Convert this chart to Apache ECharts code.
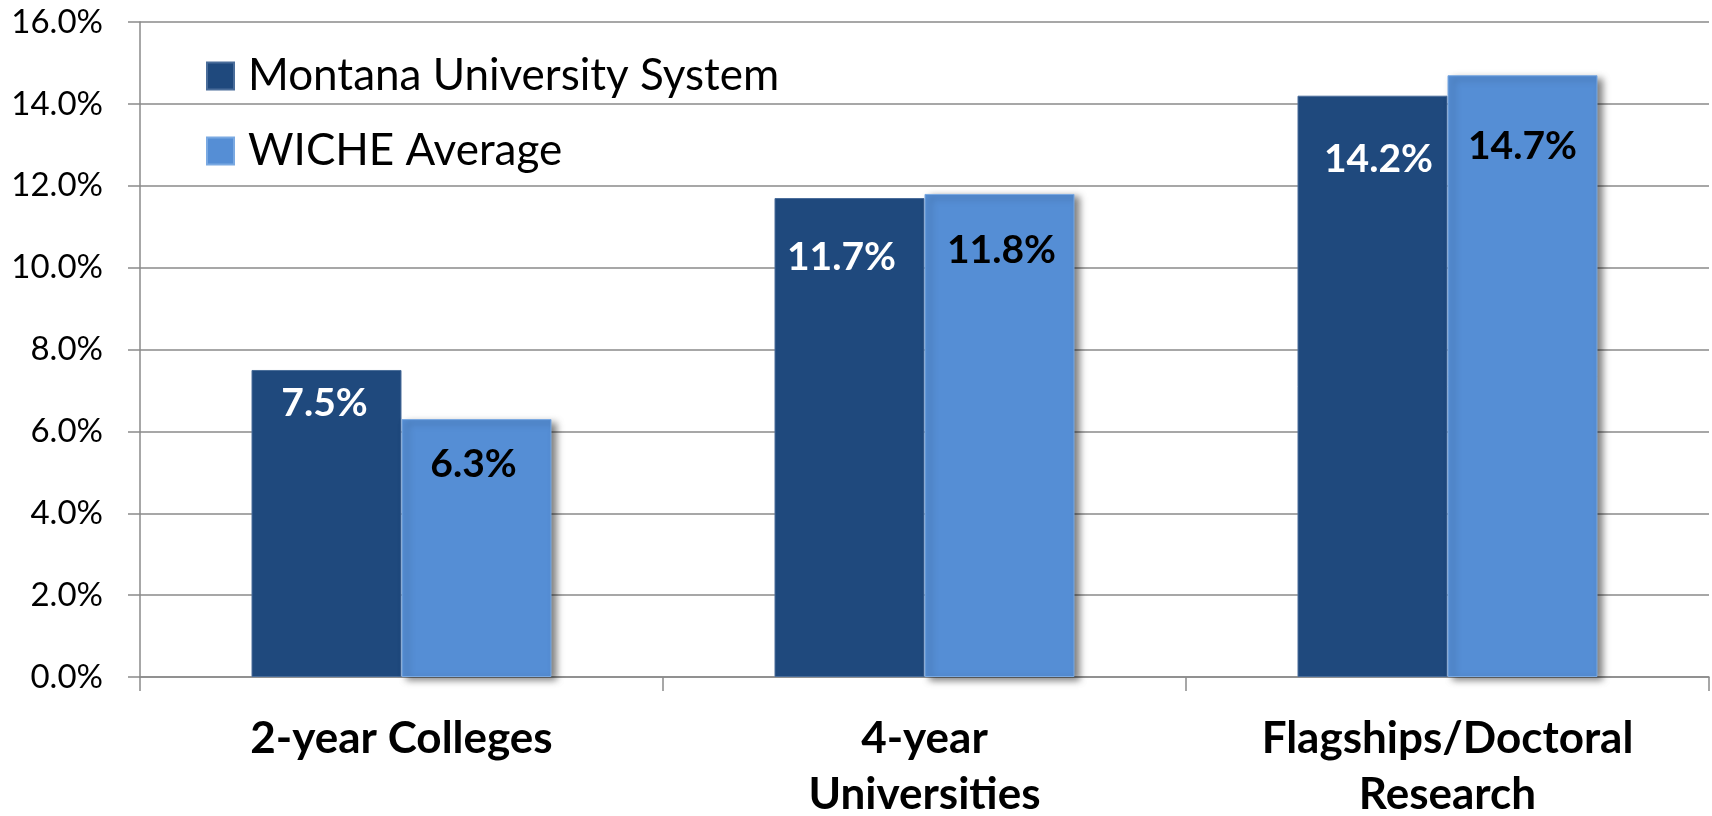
<!DOCTYPE html>
<html>
<head>
<meta charset="utf-8">
<script src="https://cdn.jsdelivr.net/npm/echarts@6/dist/echarts.min.js"></script>
<style>
  html, body { margin: 0; padding: 0; background: #ffffff; }
  #chart { width: 1712px; height: 816px; }
</style>
</head>
<body>
<div id="chart"></div>
<script>
// Categories and values (percent)
const categories = ['2-year Colleges', '4-year\nUniversities', 'Flagships/Doctoral\nResearch'];
const seriesNames = ['Montana University System', 'WICHE Average'];
const montanaValues = [7.5, 11.7, 14.2];
const wicheValues = [6.3, 11.8, 14.7];
const yAxisMin = 0;
const yAxisMax = 16;
const yAxisStep = 2;

// Hand-placed value label nudges [dx, dy] inside each bar's top
const montanaLabelNudge = [[-2, 14], [-8, 40], [6, 45]];
const wicheLabelNudge = [[-3, 26], [2, 37], [0, 52]];

const FONT = 'Lato';
const GRID_GRAY = '#8a8a8a';

function withLabels(values, nudges, color) {
  return values.map((v, i) => ({
    value: v,
    label: { offset: nudges[i], color: color }
  }));
}

const valueLabel = {
  show: true,
  position: 'insideTop',
  distance: 0,
  fontFamily: FONT,
  fontWeight: 'bold',
  fontSize: 39,
  lineHeight: 38,
  formatter: p => p.value.toFixed(1) + '%'
};

const chart = echarts.init(document.getElementById('chart'), null, { renderer: 'canvas' });
chart.setOption({
  animation: false,
  backgroundColor: '#ffffff',
  grid: { left: 140, right: 3, top: 22, bottom: 139, containLabel: false, outerBoundsMode: 'none' },
  legend: {
    orient: 'vertical',
    left: 206,
    top: 54,
    itemWidth: 27,
    itemHeight: 27,
    itemGap: 31,
    padding: 0,
    icon: 'rect',
    textStyle: { fontFamily: FONT, fontSize: 44, color: '#000', padding: [0, 0, 0, 9] },
    data: seriesNames
  },
  xAxis: {
    type: 'category',
    data: categories,
    axisLine: { show: true, lineStyle: { color: GRID_GRAY, width: 1.5 } },
    axisTick: { show: true, length: 14, lineStyle: { color: GRID_GRAY, width: 1.5 } },
    axisLabel: {
      margin: 34,
      fontFamily: FONT,
      fontWeight: 'bold',
      fontSize: 44,
      lineHeight: 56,
      color: '#000',
      interval: 0
    }
  },
  yAxis: {
    type: 'value',
    min: yAxisMin,
    max: yAxisMax,
    interval: yAxisStep,
    axisLine: { show: true, lineStyle: { color: GRID_GRAY, width: 1.5 } },
    axisTick: { show: true, length: 12, lineStyle: { color: GRID_GRAY, width: 1.5 } },
    splitLine: { show: true, lineStyle: { color: GRID_GRAY, width: 1.5 } },
    axisLabel: {
      margin: 37,
      fontFamily: FONT,
      fontSize: 33,
      color: '#000',
      formatter: v => v.toFixed(1) + '%'
    }
  },
  series: [
    {
      name: seriesNames[0],
      type: 'bar',
      barWidth: 150,
      barGap: '0%',
      data: withLabels(montanaValues, montanaLabelNudge, '#ffffff'),
      itemStyle: { color: '#1f497d', borderColor: '#4a6d9a', borderWidth: 1 },
      label: valueLabel
    },
    {
      name: seriesNames[1],
      type: 'bar',
      barWidth: 150,
      barGap: '0%',
      data: withLabels(wicheValues, wicheLabelNudge, '#000000'),
      itemStyle: {
        color: '#558ed5',
        borderColor: '#7aa9e2',
        borderWidth: 1,
        shadowColor: 'rgba(0,0,0,0.5)',
        shadowBlur: 7,
        shadowOffsetX: 5,
        shadowOffsetY: 3
      },
      label: valueLabel
    }
  ]
});
</script>
</body>
</html>
